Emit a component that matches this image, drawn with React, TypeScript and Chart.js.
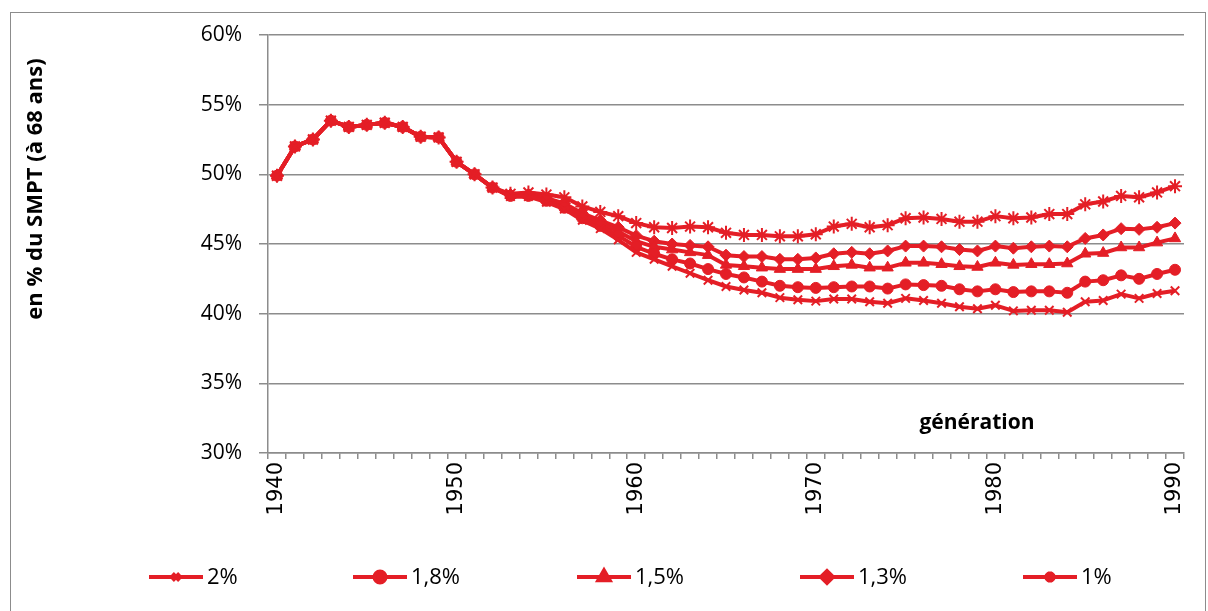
import React, { useEffect, useRef } from 'react';
import { Chart, registerables } from 'chart.js';
import { drawPoint } from 'chart.js/helpers';

Chart.register(...registerables);

const years = [
  '1940', '1941', '1942', '1943', '1944', '1945', '1946', '1947', '1948', '1949',
  '1950', '1951', '1952', '1953', '1954', '1955', '1956', '1957', '1958', '1959',
  '1960', '1961', '1962', '1963', '1964', '1965', '1966', '1967', '1968', '1969',
  '1970', '1971', '1972', '1973', '1974', '1975', '1976', '1977', '1978', '1979',
  '1980', '1981', '1982', '1983', '1984', '1985', '1986', '1987', '1988', '1989',
  '1990',
];

const labelYears = ['1940', '1950', '1960', '1970', '1980', '1990'];
const yTicks = [30, 35, 40, 45, 50, 55, 60];
const seriesLabels = ['2%', '1,8%', '1,5%', '1,3%', '1%'];

const s2 = [
  49.9, 52.0, 52.5, 53.85, 53.4, 53.55, 53.7, 53.4, 52.7, 52.65, 50.9, 50.0, 49.05,
  48.4, 48.4, 48.0, 47.5, 46.7, 46.1, 45.3, 44.4, 43.9, 43.4, 42.9, 42.4, 41.95, 41.7,
  41.5, 41.15, 41.0, 40.9, 41.05, 41.05, 40.85, 40.75, 41.1, 40.95, 40.75, 40.5, 40.35,
  40.6, 40.2, 40.25, 40.25, 40.1, 40.85, 40.95, 41.4, 41.1, 41.45, 41.65,
];
const s18 = [
  49.9, 52.0, 52.5, 53.85, 53.4, 53.55, 53.7, 53.4, 52.7, 52.65, 50.9, 50.0, 49.05,
  48.45, 48.45, 48.1, 47.6, 46.85, 46.3, 45.6, 44.8, 44.3, 43.9, 43.6, 43.2, 42.85, 42.6,
  42.3, 42.0, 41.9, 41.85, 41.9, 41.95, 41.95, 41.8, 42.1, 42.05, 42.0, 41.75, 41.6,
  41.75, 41.55, 41.6, 41.6, 41.5, 42.3, 42.4, 42.75, 42.5, 42.85, 43.15,
];
const s15 = [
  49.9, 52.0, 52.5, 53.85, 53.4, 53.55, 53.7, 53.4, 52.7, 52.65, 50.9, 50.0, 49.05,
  48.5, 48.5, 48.2, 47.8, 47.0, 46.5, 45.9, 45.2, 44.8, 44.6, 44.4, 44.2, 43.5, 43.4,
  43.3, 43.2, 43.2, 43.2, 43.4, 43.5, 43.3, 43.3, 43.65, 43.65, 43.55, 43.4, 43.35,
  43.65, 43.5, 43.55, 43.55, 43.6, 44.3, 44.35, 44.75, 44.75, 45.1, 45.4,
];
const s13 = [
  49.9, 52.0, 52.5, 53.85, 53.4, 53.55, 53.7, 53.4, 52.7, 52.65, 50.9, 50.0, 49.05,
  48.55, 48.55, 48.3, 47.9, 47.2, 46.7, 46.2, 45.6, 45.2, 45.0, 44.9, 44.8, 44.2, 44.1,
  44.1, 43.9, 43.9, 44.0, 44.3, 44.4, 44.3, 44.5, 44.85, 44.85, 44.8, 44.6, 44.5,
  44.85, 44.7, 44.8, 44.85, 44.8, 45.4, 45.65, 46.1, 46.05, 46.2, 46.5,
];
const s1 = [
  49.9, 52.0, 52.5, 53.85, 53.4, 53.55, 53.7, 53.4, 52.7, 52.65, 50.9, 50.0, 49.05,
  48.6, 48.7, 48.55, 48.35, 47.7, 47.3, 47.0, 46.5, 46.2, 46.15, 46.25, 46.2, 45.8, 45.65,
  45.65, 45.55, 45.55, 45.7, 46.25, 46.45, 46.2, 46.35, 46.85, 46.9, 46.8, 46.6, 46.6,
  47.0, 46.85, 46.9, 47.15, 47.15, 47.85, 48.05, 48.45, 48.35, 48.7, 49.15,
];

const RED = '#E41E26';
const GRID = '#8c8c8c';
const LEGEND_X = [149, 353, 577, 800, 1023];
const LEGEND_Y = 577;

const legendPlugin = {
  id: 'customLegendAndTitles',
  afterDraw(chart: any) {
    const ctx = chart.ctx;
    ctx.save();
    chart.data.datasets.forEach((ds: any, i: number) => {
      const x0 = LEGEND_X[i];
      ctx.strokeStyle = RED;
      ctx.lineWidth = 4;
      ctx.lineCap = 'butt';
      ctx.beginPath();
      ctx.moveTo(x0, LEGEND_Y);
      ctx.lineTo(x0 + 54, LEGEND_Y);
      ctx.stroke();
      ctx.fillStyle = RED;
      ctx.strokeStyle = RED;
      drawPoint(
        ctx,
        {
          pointStyle: ds.pointStyle,
          radius: ds.legendRadius,
          rotation: 0,
          borderWidth: ds.pointBorderWidth,
        } as any,
        x0 + 27,
        LEGEND_Y
      );
      ctx.fillStyle = '#000';
      ctx.font = '22px "Open Sans"';
      ctx.textAlign = 'left';
      ctx.textBaseline = 'middle';
      ctx.fillText(ds.label, x0 + 58, LEGEND_Y + 1);
    });
    ctx.save();
    ctx.translate(36, 189);
    ctx.rotate(-Math.PI / 2);
    ctx.font = 'bold 22px "Open Sans"';
    ctx.fillStyle = '#000';
    ctx.textAlign = 'center';
    ctx.textBaseline = 'middle';
    ctx.fillText('en % du SMPT (à 68 ans)', 0, 0);
    ctx.restore();
    ctx.font = 'bold 21px "Open Sans"';
    ctx.fillStyle = '#000';
    ctx.textAlign = 'center';
    ctx.textBaseline = 'middle';
    ctx.fillText('génération', 977, 423);
    ctx.restore();
  },
};

export default function App() {
  const canvasRef = useRef<HTMLCanvasElement | null>(null);

  useEffect(() => {
    if (!canvasRef.current) return;
    const mk = (label: string, data: number[], style: string, radius: number, bw: number, legendRadius: number) => ({
      label,
      data,
      borderColor: RED,
      backgroundColor: RED,
      borderWidth: 4,
      borderJoinStyle: 'round',
      pointStyle: style,
      pointRadius: radius,
      pointBorderWidth: bw,
      pointBackgroundColor: RED,
      pointBorderColor: RED,
      tension: 0,
      legendRadius,
    });
    const chart = new Chart(canvasRef.current, {
      type: 'line',
      data: {
        labels: years,
        datasets: [
          mk(seriesLabels[0], s2, 'crossRot', 6, 2, 5),
          mk(seriesLabels[1], s18, 'circle', 5.5, 1, 5.5),
          mk(seriesLabels[2], s15, 'triangle', 6.5, 1, 6.5),
          mk(seriesLabels[3], s13, 'rectRot', 6, 1, 6),
          mk(seriesLabels[4], s1, 'star', 7, 2, 5.5),
        ] as any,
      },
      options: {
        responsive: false,
        animation: false,
        devicePixelRatio: 1,
        layout: { padding: { top: 35, right: 24, left: 0, bottom: 0 } },
        plugins: {
          legend: { display: false },
          tooltip: { enabled: false },
        },
        scales: {
          x: {
            type: 'category',
            offset: true,
            grid: {
              display: true,
              drawOnChartArea: false,
              drawTicks: true,
              tickLength: 6,
              color: GRID,
              lineWidth: 1.5,
              offset: true,
            },
            border: { display: true, color: GRID, width: 1.5 },
            ticks: {
              autoSkip: false,
              maxRotation: 90,
              minRotation: 90,
              padding: 3,
              color: '#000',
              font: { family: 'DejaVu Sans', size: 21 },
              callback: (_v: any, i: number) => (labelYears.includes(years[i]) ? years[i] : ''),
            },
            afterFit: (scale: any) => {
              scale.height = 158;
            },
          },
          y: {
            min: yTicks[0],
            max: yTicks[yTicks.length - 1],
            grid: {
              color: GRID,
              lineWidth: 1.5,
              drawTicks: true,
              tickLength: 9,
            },
            border: { display: true, color: GRID, width: 1.5 },
            ticks: {
              stepSize: 5,
              padding: 17,
              color: '#000',
              font: { family: 'Open Sans', size: 21 },
              callback: (v: any) => `${v}%`,
            },
            afterFit: (scale: any) => {
              scale.width = 268;
            },
          },
        },
      } as any,
      plugins: [legendPlugin],
    });
    return () => chart.destroy();
  }, []);

  return (
    <div
      style={{
        position: 'absolute',
        left: 0,
        top: 0,
        width: 1208,
        height: 611,
        overflow: 'hidden',
        background: '#fff',
      }}
    >
      <div
        style={{
          position: 'absolute',
          left: 10,
          top: 12,
          width: 1194,
          height: 640,
          border: '1.5px solid #8c8c8c',
        }}
      />
      <canvas
        ref={canvasRef}
        width={1208}
        height={611}
        style={{ position: 'absolute', left: 0, top: 0, width: 1208, height: 611 }}
      />
    </div>
  );
}
